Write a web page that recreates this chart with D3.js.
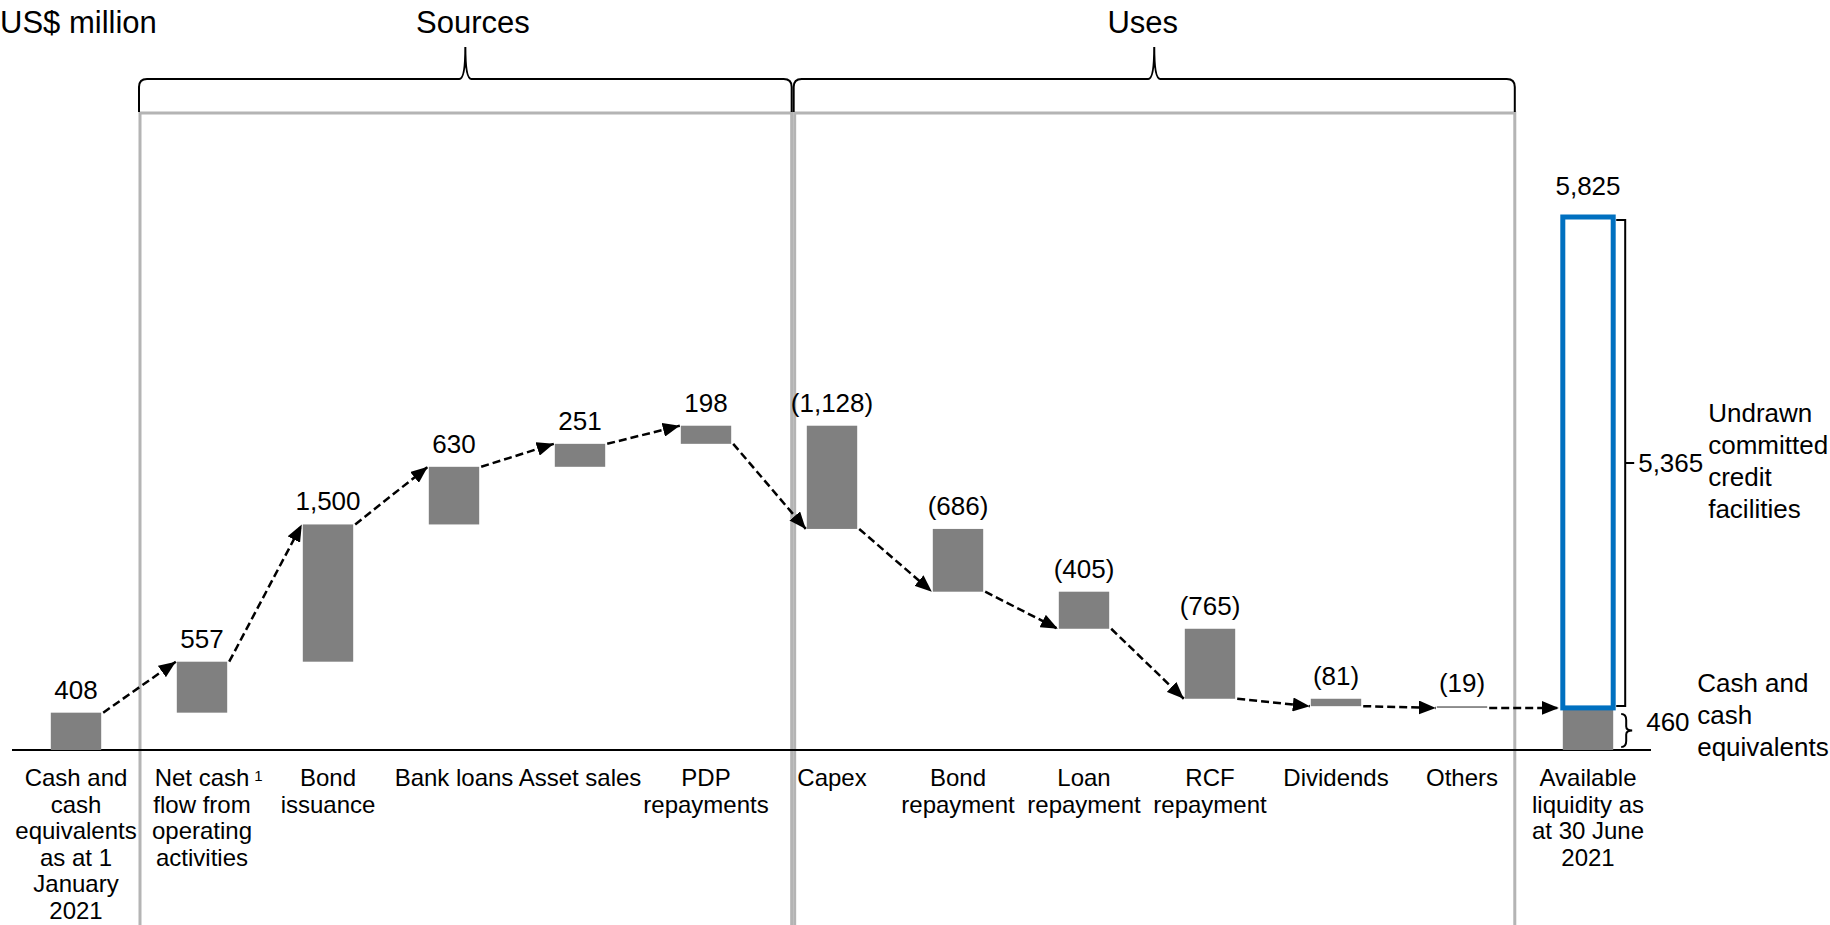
<!DOCTYPE html>
<html>
<head>
<meta charset="utf-8">
<script src="https://cdn.jsdelivr.net/npm/d3@7"></script>
<style>
	body { margin: 0; background: #ffffff; }
	text { font-family: 'Liberation Sans', Arial, sans-serif; fill: #000000; }
</style>
</head>
<body>
<div id="chart_div"></div>
<script>
// category labels, one array of lines per bar
var category_lines = [
	['Cash and', 'cash', 'equivalents', 'as at 1', 'January', '2021'],
	['Net cash', 'flow from', 'operating', 'activities'],
	['Bond', 'issuance'],
	['Bank loans'],
	['Asset sales'],
	['PDP', 'repayments'],
	['Capex'],
	['Bond', 'repayment'],
	['Loan', 'repayment'],
	['RCF', 'repayment'],
	['Dividends'],
	['Others'],
	['Available', 'liquidity as', 'at 30 June', '2021']
];
var categories = category_lines.map((d) => d.join(' '));

// waterfall steps (US$ million), opening cash first
var step_values = [408, 557, 1500, 630, 251, 198, -1128, -686, -405, -765, -81, -19];
var closing_cash = 460;
var undrawn_facilities = 5365;
var available_liquidity = 5825;

var group_titles = ['Sources', 'Uses'];
var unit_title = 'US$ million';
var cash_note = ['Cash and', 'cash', 'equivalents'];
var undrawn_note = ['Undrawn', 'committed', 'credit', 'facilities'];

function draw_chart() {
	var width = 1830;
	var height = 925;
	var svg = d3
		.select('#chart_div')
		.append('svg')
		.attr('width', width)
		.attr('height', height);

	var x = d3
		.scaleBand()
		.domain(categories)
		.range([13, 1651])
		.paddingInner(0.6)
		.paddingOuter(0.3);
	var y = d3.scaleLinear().domain([0, available_liquidity]).range([750, 217]);
	var bw = x.bandwidth();
	var gap = x.step() - bw;
	var fmt = d3.format(',');
	var label_fmt = (v) => (v < 0 ? '(' + fmt(-v) + ')' : fmt(v));

	var levels = [0];
	step_values.forEach(function (v, i) {
		levels.push(levels[i] + v);
	});

	// grey section boxes
	var sources_left = x(categories[1]) - gap / 2 + 1;
	var sources_right = x(categories[6]) - gap * 0.2;
	var uses_left = sources_right + 3;
	var uses_right = x(categories[11]) + bw + gap * 0.365;
	var box_top = 113;
	var boxes = [
		[sources_left, sources_right],
		[uses_left, uses_right]
	];
	svg.selectAll('.section_box')
		.data(boxes)
		.enter()
		.append('path')
		.attr('class', 'section_box')
		.attr('d', (d) => 'M' + d[0] + ',' + height + 'V' + box_top + 'H' + d[1] + 'V' + height)
		.attr('fill', 'none')
		.attr('stroke', '#b4b4b4')
		.attr('stroke-width', 3);

	// curly braces over the boxes
	function brace_path(x0, x1, y_top, y_bottom, y_peak) {
		var xm = (x0 + x1) / 2;
		var r = 8;
		return 'M' + x0 + ',' + y_bottom +
			'V' + (y_top + r) +
			'Q' + x0 + ',' + y_top + ' ' + (x0 + r) + ',' + y_top +
			'H' + (xm - 6) +
			'Q' + xm + ',' + y_top + ' ' + xm + ',' + y_peak +
			'Q' + xm + ',' + y_top + ' ' + (xm + 6) + ',' + y_top +
			'H' + (x1 - r) +
			'Q' + x1 + ',' + y_top + ' ' + x1 + ',' + (y_top + r) +
			'V' + y_bottom;
	}
	svg.selectAll('.brace')
		.data(boxes)
		.enter()
		.append('path')
		.attr('class', 'brace')
		.attr('d', (d) => brace_path(d[0] - 1, d[1], 79, 112, 47))
		.attr('fill', 'none')
		.attr('stroke', '#000')
		.attr('stroke-width', 2);

	var title_shift = [7, -12];
	svg.selectAll('.group_title')
		.data(group_titles)
		.enter()
		.append('text')
		.attr('class', 'group_title')
		.attr('x', (d, i) => (boxes[i][0] + boxes[i][1]) / 2 + title_shift[i])
		.attr('y', 33)
		.attr('text-anchor', 'middle')
		.attr('font-size', 31)
		.text((d) => d);

	svg.append('text')
		.attr('x', 0)
		.attr('y', 33)
		.attr('font-size', 31)
		.text(unit_title);

	// axis baseline
	svg.append('line')
		.attr('x1', x.range()[0] - 1)
		.attr('x2', x.range()[1])
		.attr('y1', y(0))
		.attr('y2', y(0))
		.attr('stroke', '#000')
		.attr('stroke-width', 2);

	// waterfall bars
	var bar_data = step_values.map(function (v, i) {
		return { cat: categories[i], value: v, lo: Math.min(levels[i], levels[i + 1]), hi: Math.max(levels[i], levels[i + 1]) };
	});
	bar_data.push({ cat: categories[12], value: closing_cash, lo: 0, hi: closing_cash });

	svg.selectAll('.bar')
		.data(bar_data)
		.enter()
		.append('rect')
		.attr('class', 'bar')
		.attr('x', (d) => x(d.cat))
		.attr('y', (d) => y(d.hi))
		.attr('width', bw)
		.attr('height', (d) => Math.max(1.5, y(d.lo) - y(d.hi)))
		.attr('fill', '#808080');

	svg.append('rect')
		.attr('x', x(categories[12]))
		.attr('y', y(available_liquidity))
		.attr('width', bw)
		.attr('height', y(closing_cash) - y(available_liquidity))
		.attr('fill', 'none')
		.attr('stroke', '#0070c0')
		.attr('stroke-width', 5);

	svg.selectAll('.value_label')
		.data(bar_data.slice(0, 12))
		.enter()
		.append('text')
		.attr('class', 'value_label')
		.attr('x', (d) => x(d.cat) + bw / 2)
		.attr('y', (d) => y(d.hi) - 14)
		.attr('text-anchor', 'middle')
		.attr('font-size', 26)
		.text((d) => label_fmt(d.value));

	svg.append('text')
		.attr('x', x(categories[12]) + bw / 2)
		.attr('y', y(available_liquidity) - 22)
		.attr('text-anchor', 'middle')
		.attr('font-size', 26)
		.text(fmt(available_liquidity));

	// dashed connector arrows
	svg.append('defs')
		.append('marker')
		.attr('id', 'arrow_head')
		.attr('viewBox', '0 0 10 10')
		.attr('refX', 10)
		.attr('refY', 5)
		.attr('markerWidth', 17)
		.attr('markerHeight', 14)
		.attr('markerUnits', 'userSpaceOnUse')
		.attr('preserveAspectRatio', 'none')
		.attr('orient', 'auto')
		.append('path')
		.attr('d', 'M0,0L10,5L0,10Z')
		.attr('fill', '#000');

	var arrow_data = d3.range(1, 13).map(function (j) {
		var i = j - 1;
		var up = j < 12 && step_values[j] > 0;
		var prev_lo = Math.min(levels[i], levels[i + 1]);
		var prev_hi = Math.max(levels[i], levels[i + 1]);
		return {
			x0: x(categories[i]) + bw + 2,
			y0: y(up ? prev_hi : prev_lo),
			x1: x(categories[j]) - (j === 12 ? 4 : 1),
			y1: y(j < 12 ? levels[j + 1] : closing_cash)
		};
	});
	svg.selectAll('.arrow')
		.data(arrow_data)
		.enter()
		.append('line')
		.attr('class', 'arrow')
		.attr('x1', (d) => d.x0)
		.attr('y1', (d) => d.y0)
		.attr('x2', (d) => d.x1)
		.attr('y2', (d) => d.y1)
		.attr('stroke', '#000')
		.attr('stroke-width', 2.5)
		.attr('stroke-dasharray', '8,4')
		.attr('marker-end', 'url(#arrow_head)');

	// category labels
	var cat_groups = svg.selectAll('.cat_label')
		.data(category_lines)
		.enter()
		.append('text')
		.attr('class', 'cat_label')
		.attr('text-anchor', 'middle')
		.attr('font-size', 24)
		.attr('x', (d, i) => x(categories[i]) + bw / 2)
		.attr('y', 786);
	cat_groups.selectAll('tspan')
		.data((d, i) => d.map((t) => ({ t: t, cx: x(categories[i]) + bw / 2 })))
		.enter()
		.append('tspan')
		.attr('x', (d) => d.cx)
		.attr('dy', (d, k) => (k === 0 ? 0 : 26.6))
		.text((d) => d.t);

	// footnote marker after "Net cash"
	var first_line = cat_groups.filter((d, i) => i === 1).select('tspan');
	var line_len = first_line.node().getComputedTextLength();
	svg.append('text')
		.attr('x', x(categories[1]) + bw / 2 + line_len / 2 + 5)
		.attr('y', 781)
		.attr('font-size', 15)
		.text('1');

	// right-hand annotations
	var bar_right = x(categories[12]) + bw;
	var bx = bar_right + 12;
	var top_y = y(available_liquidity) + 3;
	var bot_y = y(closing_cash) - 2;
	var mid_y = (top_y + bot_y) / 2;
	svg.append('path')
		.attr('d', 'M' + (bar_right + 3) + ',' + top_y + 'H' + bx + 'V' + bot_y + 'H' + (bar_right + 3) +
			'M' + bx + ',' + mid_y + 'H' + (bx + 9))
		.attr('fill', 'none')
		.attr('stroke', '#000')
		.attr('stroke-width', 2);
	svg.append('text')
		.attr('x', bx + 13)
		.attr('y', mid_y + 9)
		.attr('font-size', 26)
		.text(fmt(undrawn_facilities));

	var cy0 = y(closing_cash) + 6;
	var cy1 = y(0) - 3;
	var cym = (cy0 + cy1) / 2;
	var cx0 = bar_right + 8;
	svg.append('path')
		.attr('d', 'M' + cx0 + ',' + cy0 + 'Q' + (cx0 + 5) + ',' + cy0 + ' ' + (cx0 + 5) + ',' + (cy0 + 6) +
			'V' + (cym - 4) + 'Q' + (cx0 + 5) + ',' + cym + ' ' + (cx0 + 11) + ',' + cym +
			'Q' + (cx0 + 5) + ',' + cym + ' ' + (cx0 + 5) + ',' + (cym + 4) +
			'V' + (cy1 - 6) + 'Q' + (cx0 + 5) + ',' + cy1 + ' ' + cx0 + ',' + cy1)
		.attr('fill', 'none')
		.attr('stroke', '#000')
		.attr('stroke-width', 2);
	svg.append('text')
		.attr('x', bar_right + 33)
		.attr('y', cym + 1)
		.attr('font-size', 26)
		.text(fmt(closing_cash));

	svg.append('text')
		.attr('font-size', 26)
		.attr('y', 692)
		.selectAll('tspan')
		.data(cash_note)
		.enter()
		.append('tspan')
		.attr('x', bar_right + 84)
		.attr('dy', (d, k) => (k === 0 ? 0 : 32))
		.text((d) => d);

	svg.append('text')
		.attr('font-size', 26)
		.attr('y', 422)
		.selectAll('tspan')
		.data(undrawn_note)
		.enter()
		.append('tspan')
		.attr('x', bar_right + 95)
		.attr('dy', (d, k) => (k === 0 ? 0 : 32))
		.text((d) => d);
}

draw_chart();
</script>
</body>
</html>
